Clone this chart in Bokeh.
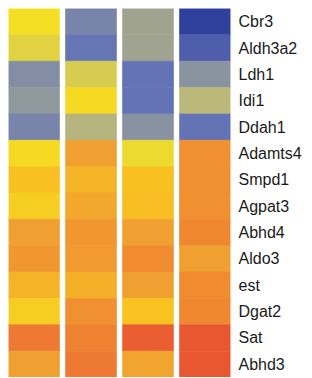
import numpy as np
from bokeh.plotting import figure
from bokeh.models import LinearColorMapper, ColumnDataSource, FactorRange, Range1d
from bokeh.transform import transform
from bokeh.embed import file_html
from bokeh.resources import INLINE

genes = ["Cbr3", "Aldh3a2", "Ldh1", "Idi1", "Ddah1", "Adamts4", "Smpd1",
         "Agpat3", "Abhd4", "Aldo3", "est", "Dgat2", "Sat", "Abhd3"]
samples = ["S1", "S2", "S3", "S4"]
s1 = [0.52, 0.477, 0.27, 0.31, 0.23, 0.54, 0.62, 0.58, 0.74, 0.77, 0.67, 0.58, 0.88, 0.74]
s2 = [0.23, 0.16, 0.46, 0.54, 0.39, 0.74, 0.67, 0.71, 0.77, 0.76, 0.68, 0.80, 0.85, 0.88]
s3 = [0.34, 0.34, 0.15, 0.15, 0.29, 0.50, 0.62, 0.63, 0.74, 0.82, 0.74, 0.61, 0.96, 0.72]
s4 = [0.00, 0.09, 0.30, 0.40, 0.15, 0.80, 0.80, 0.80, 0.83, 0.74, 0.82, 0.83, 0.98, 0.98]
series = [s1, s2, s3, s4]

# colour scale anchors (position, colour)
anchors = [(0.00, "#2e3f9c"), (0.15, "#6473b5"), (0.30, "#8a94a0"),
           (0.40, "#bcb87a"), (0.52, "#f4e024"), (0.62, "#f8c020"),
           (0.74, "#f0a030"), (0.80, "#f09030"), (0.88, "#ee7a32"),
           (1.00, "#e85030")]

def hex2rgb(h):
    return [int(h[i:i + 2], 16) for i in (1, 3, 5)]

pos = np.array([a[0] for a in anchors])
rgb = np.array([hex2rgb(a[1]) for a in anchors], dtype=float)
t = np.linspace(0, 1, 256)
palette = []
for tv in t:
    c = [int(round(np.interp(tv, pos, rgb[:, k]))) for k in range(3)]
    palette.append("#%02x%02x%02x" % tuple(c))

mapper = LinearColorMapper(palette=palette, low=0, high=1)

xs, ys, vs = [], [], []
for i, s in enumerate(series):
    for g, v in zip(genes, s):
        xs.append(i)
        ys.append(g)
        vs.append(v)
src = ColumnDataSource(dict(x=xs, gene=ys, v=vs))

cell_w = 51 / 57
p = figure(frame_width=222, frame_height=369,
           x_range=Range1d(-cell_w / 2, len(samples) - 1 + cell_w / 2),
           y_range=FactorRange(*reversed(genes)),
           y_axis_location="right", x_axis_location=None,
           toolbar_location=None, output_backend="svg", min_border=0,
           min_border_left=8, min_border_top=8)
p.rect(x="x", y="gene", width=cell_w, height=1, source=src,
       fill_color=transform("v", mapper), line_color=transform("v", mapper),
       line_width=0.6)
p.outline_line_color = None
p.grid.visible = False
ax = p.yaxis[0]
ax.axis_line_color = None
ax.major_tick_line_color = None
ax.minor_tick_line_color = None
ax.major_tick_in = 0
ax.major_tick_out = 0
ax.major_label_standoff = 8
ax.major_label_text_font = "Liberation Sans"
ax.major_label_text_font_size = "16px"
ax.major_label_text_color = "#1a1a1a"

open("out.html", "w").write(file_html(p, INLINE))
